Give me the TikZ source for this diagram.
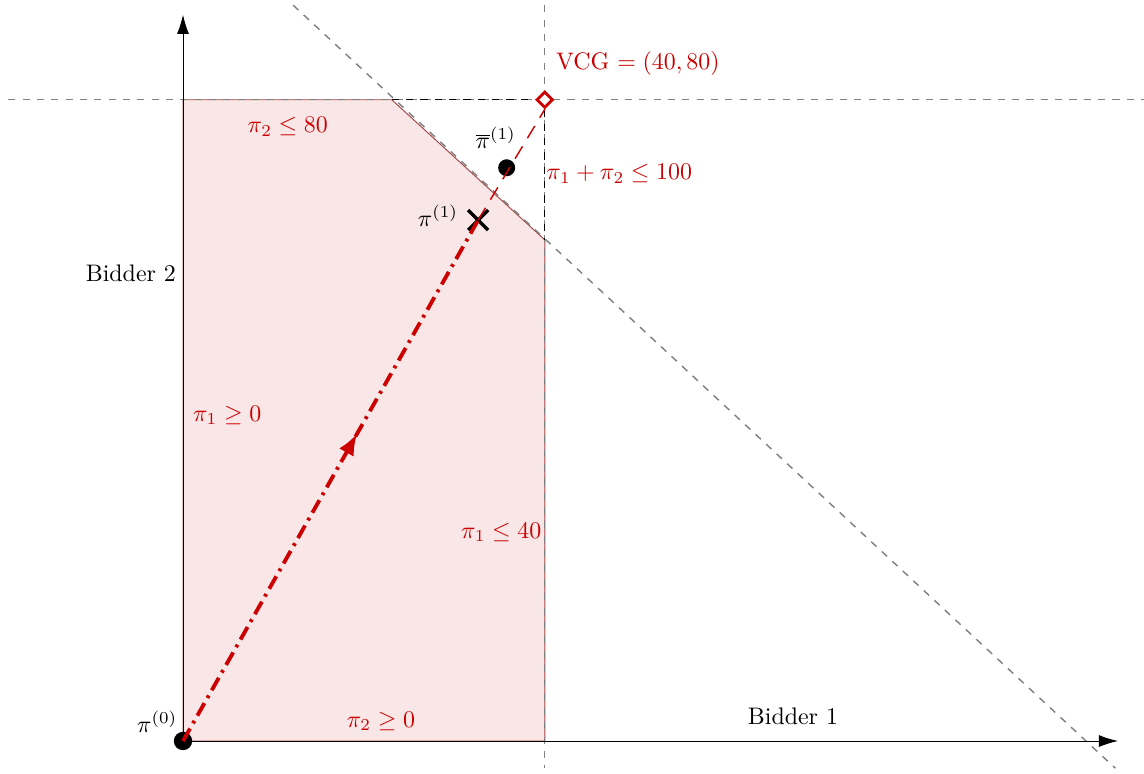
\documentclass[tikz,border=0pt]{standalone}
\usetikzlibrary{decorations.markings, shapes.geometric, arrows.meta}
\definecolor{vcgred}{RGB}{204,0,0}
\definecolor{corefill}{RGB}{249,230,230}
\tikzset{
  guide/.style={gray, dashed, semithick},
  dot/.style={circle, fill=black, inner sep=0pt, minimum size=0.25cm},
  lbl/.style={text=vcgred}
}
\begin{document}
\begin{tikzpicture}[>={Latex[length=8pt,width=5pt]}]
\useasboundingbox (-2.691,-0.471) rectangle (14.132,10.897);
% corners of the core
\coordinate (o) at (0,0);
\coordinate (top) at (0,9.43);
\coordinate (a) at (3.07,9.43);
\coordinate (b) at (5.32,7.37);
\coordinate (c) at (5.32,0);
\coordinate (xend) at (13.75,0);
\coordinate (yend) at (0,10.68);

\fill[corefill] (o) -- (top) -- (a) -- (b) -- (c) -- cycle;
\draw[red!50!black, opacity=0.7] (c) -- (o) -- (top) -- (a) -- (b) -- (c);

% constraint lines
\coordinate (h1) at (-2.57,9.43);
\coordinate (h2) at (14.13,9.43);
\coordinate (v1) at (5.32,10.82);
\coordinate (v2) at (5.32,-0.40);
\coordinate (d1) at (1.62,10.82);
\coordinate (d2) at (13.71,-0.40);
\draw[guide] (h1) -- (h2);
\draw[guide] (v1) -- (v2);
\draw[guide] (d1) -- (d2);

\node[draw=vcgred, fill=white, very thick, diamond, inner sep=0pt, minimum size=0.24cm] (vcg) at (5.32,9.43) {};
\draw[dashed, semithick] (a) -- (vcg.west);
\draw[dashed, semithick] (vcg.south) -- (b);

% axes
\draw[->] (o) -- (xend);
\draw[->] (o) -- (yend);
\node[anchor=east] (bid2) at (0.02,6.88) {Bidder 2};
\node (bid1) at (8.97,0.37) {Bidder 1};

% points
\node[dot, minimum size=0.27cm] (pi0) at (o) {};
\node[dot] (pibar) at (4.76,8.43) {};
\node[inner sep=0pt, minimum size=0.28cm] (pi1) at (4.34,7.66) {};
\draw[line width=1.4pt] (pi1.north west) -- (pi1.south east);
\draw[line width=1.4pt] (pi1.north east) -- (pi1.south west);

% path to VCG
\draw[vcgred, line width=1.6pt, dash pattern=on 6pt off 2.5pt on 1.2pt off 2.5pt,
  decoration={markings, mark=at position 0.59 with {\arrow{Latex[length=9pt,width=7pt]}}},
  postaction={decorate}] (pi0.center) -- (pi1.center);
\draw[vcgred, semithick, dash pattern=on 6pt off 4pt] (pi1.center) -- (vcg.south);

% labels
\node[lbl] at (6.69,9.96) {VCG $=(40,80)$};
\node at (4.60,8.87) {$\overline{\pi}^{(1)}$};
\node[lbl, anchor=west] at (5.22,8.34) {$\pi_1+\pi_2\leq 100$};
\node at (3.75,7.72) {$\pi^{(1)}$};
\node at (-0.38,0.28) {$\pi^{(0)}$};
\node[lbl] at (1.54,9.03) {$\pi_2\leq 80$};
\node[lbl] at (0.65,4.79) {$\pi_1\geq 0$};
\node[lbl] at (4.68,3.07) {$\pi_1\leq 40$};
\node[lbl] at (2.91,0.29) {$\pi_2\geq 0$};
\end{tikzpicture}
\end{document}
